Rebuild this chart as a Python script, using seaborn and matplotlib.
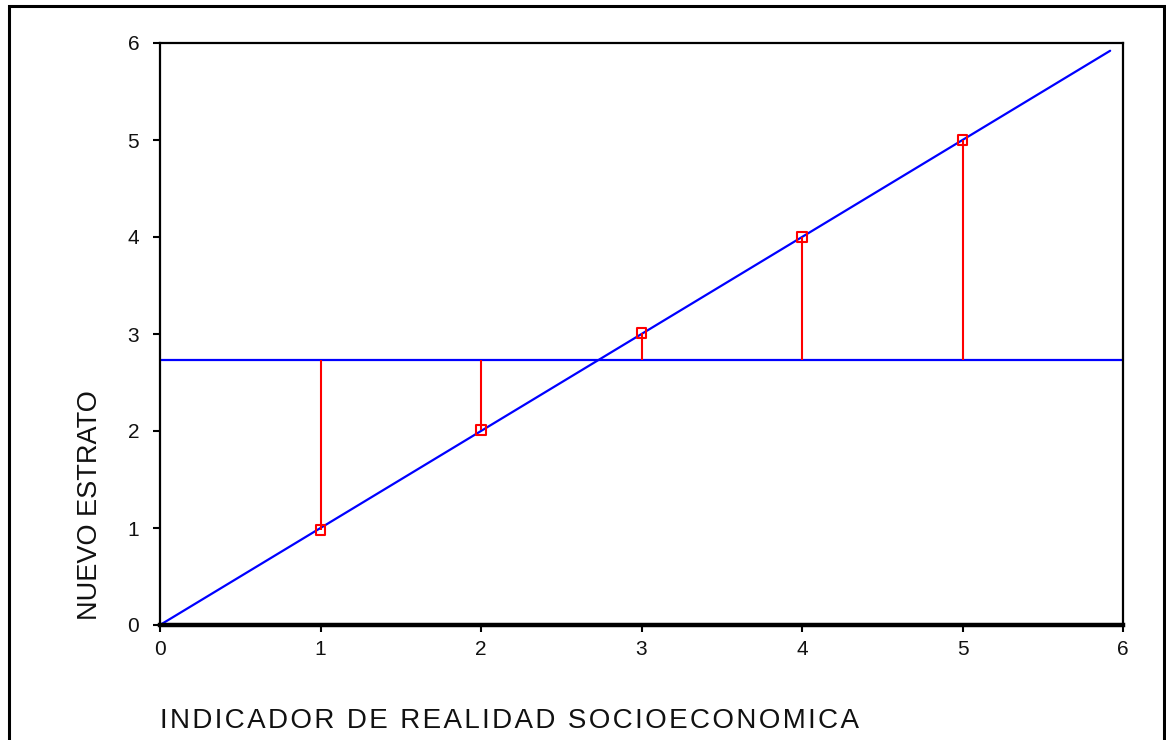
import numpy as np
import pandas as pd
import matplotlib
matplotlib.use("Agg")
import matplotlib.pyplot as plt
import seaborn as sns
from matplotlib.patches import Rectangle

# Data
indicador = [1, 2, 3, 4, 5]
estrato = [0.98, 2.01, 3.01, 4.0, 5.0]
media = 2.73
diag_x = [0, 5.92]
diag_y = [0, 5.92]
ticks = [0, 1, 2, 3, 4, 5, 6]

sns.set_theme(style="white")
plt.rcParams["font.family"] = ["Liberation Sans", "DejaVu Sans"]

df = pd.DataFrame({"x": indicador, "y": estrato})
diag = pd.DataFrame({"x": diag_x, "y": diag_y})

fig = plt.figure(figsize=(11.66, 7.40), dpi=100)
ax = fig.add_axes([160 / 1166, 1 - 625 / 740, 963 / 1166, 582 / 740])

# Outer frame
fig.patches.append(Rectangle((9 / 1166, -0.01), 1155 / 1166, 1 - 6 / 740 + 0.01,
                             transform=fig.transFigure, fill=False,
                             edgecolor="black", linewidth=2.2))

# Lines
sns.lineplot(data=diag, x="x", y="y", ax=ax, color="#0000FF", linewidth=1.6)
ax.axhline(media, color="#0000FF", linewidth=1.6, zorder=2)

# Residual segments
ax.vlines(df["x"], media, df["y"], color="#FF0000", linewidth=1.5, zorder=3)

sns.scatterplot(data=df, x="x", y="y", ax=ax, marker="s", s=45,
                facecolor="none", edgecolor="#FF0000", linewidth=1.5, zorder=4)

ax.set_xlim(0, 6)
ax.set_ylim(0, 6)
ax.set_xticks(ticks)
ax.set_yticks(ticks)
ax.tick_params(axis="both", direction="out", length=5, width=1.5,
               color="black", labelsize=15, labelcolor="#111111")
ax.tick_params(axis="x", pad=6, bottom=True)
ax.tick_params(axis="y", pad=10, left=True)

for side in ["top", "right", "left"]:
    ax.spines[side].set_color("black")
    ax.spines[side].set_linewidth(1.6)
ax.spines["bottom"].set_color("black")
ax.spines["bottom"].set_linewidth(3.2)

ax.set_xlabel("")
ax.set_ylabel("")
xlab = "\u200a".join("INDICADOR DE REALIDAD SOCIOECONOMICA")
fig.text(160 / 1166, 1 - 728 / 740, xlab,
         fontsize=20, ha="left", va="baseline", color="#111111")
fig.text(90 / 1166, 1 - 505 / 740, "NUEVO ESTRATO", rotation=90,
         fontsize=19.5, ha="center", va="center", color="#111111")

fig.savefig("out.png", dpi=100)
